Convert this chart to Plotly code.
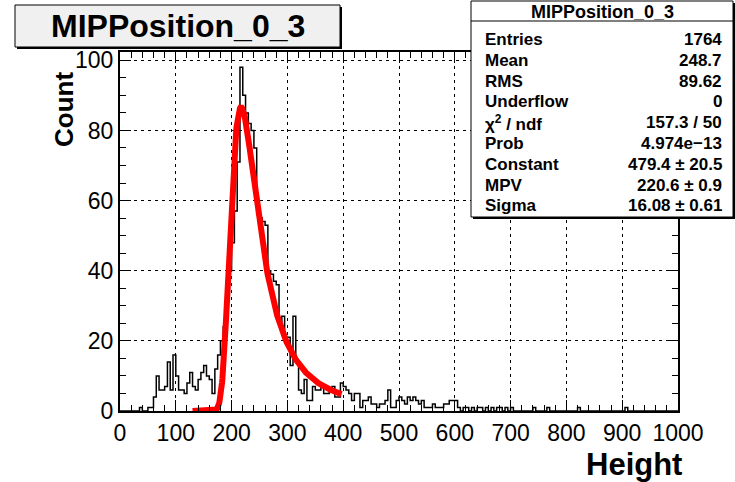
import math
import plotly.graph_objects as go

# ---------------- data ----------------
bin_width = 5
bin_start = 0
counts = [
    0, 0, 0, 0, 0, 0, 0, 1, 0, 0,          # 0-50
    1, 1, 4, 10, 6, 6, 7, 14, 6, 16,       # 50-100
    10, 6, 6, 5, 8, 11, 7, 6, 9, 11,       # 100-150
    13, 10, 9, 5, 12, 16, 20, 24, 32, 40,  # 150-200
    48, 57, 71, 98, 90, 85, 82, 80, 75, 56,  # 200-250
    55, 54, 53, 40, 39, 37, 36, 25, 27, 21,  # 250-300
    21, 13, 27, 14, 6, 5, 9, 3, 3, 7,      # 300-350
    6, 6, 7, 5, 5, 6, 7, 4, 4, 8,          # 350-400
    7, 6, 5, 3, 5, 5, 1, 3, 3, 4,          # 400-450
    2, 2, 1, 2, 2, 3, 6, 1, 1, 3,          # 450-500
    4, 3, 2, 4, 3, 4, 3, 2, 3, 1,          # 500-550
    1, 1, 2, 1, 1, 1, 2, 2, 3, 3,          # 550-600
    3, 1, 0, 1, 1, 0, 1, 0, 1, 1,          # 600-650
    0, 1, 0, 1, 0, 1, 1, 0, 1, 0,          # 650-700
    1, 0, 0, 0, 0, 0, 0, 0, 1, 0,          # 700-750
    0, 0, 0, 1, 0, 0, 0, 0, 0, 0,          # 750-800
    0, 0, 0, 0, 1, 0, 0, 0, 0, 0,          # 800-850
    0, 0, 0, 0, 0, 0, 0, 0, 0, 0,          # 850-900
    0, 1, 0, 0, 0, 0, 0, 0, 0, 0,          # 900-950
    0, 0, 0, 0, 0, 0, 0, 0, 0, 0,          # 950-1000
]

# Landau fit parameters (from the stats box)
fit_constant = 479.4
fit_mpv = 220.6
fit_sigma = 16.08
fit_xmin = 130
fit_xmax = 397

x_ticks = [0, 100, 200, 300, 400, 500, 600, 700, 800, 900, 1000]
y_ticks = [0, 20, 40, 60, 80, 100]

hist_title = "MIPPosition_0_3"
x_title = "Height"
y_title = "Count"
stats_labels = ["Entries", "Mean", "RMS", "Underflow", "χ<sup>2</sup> / ndf",
                "Prob", "Constant", "MPV", "Sigma"]
stats_values = ["1764", "248.7", "89.62", "0", "157.3 / 50", "4.974e\u221213",
                "479.4 \u00b1 20.5", "220.6 \u00b1 0.9", "16.08 \u00b1 0.61"]


# ---------------- Landau (ROOT::Math::landau_pdf) ----------------
def landau_pdf(v):
    p1 = [0.4259894875, -0.1249762550, 0.03984243700, -0.006298287635, 0.001511162253]
    q1 = [1.0, -0.3388260629, 0.09594393323, -0.01608042283, 0.003778942063]
    p2 = [0.1788541609, 0.1173957403, 0.01488850518, -0.001394989411, 0.0001283617211]
    q2 = [1.0, 0.7428795082, 0.3153932961, 0.06694219548, 0.008790609714]
    p3 = [0.1788544503, 0.09359161662, 0.006325387654, 0.00006611667319, -0.000002031049101]
    q3 = [1.0, 0.6097809921, 0.2560616665, 0.04746722384, 0.006957301675]
    p4 = [0.9874054407, 118.6723273, 849.2794360, -743.7792444, 427.0262186]
    q4 = [1.0, 106.8615961, 337.6496214, 2016.712389, 1597.063511]
    p5 = [1.003675074, 167.5702434, 4789.711289, 21217.86767, -22324.94910]
    q5 = [1.0, 156.9424537, 3745.310488, 9834.698876, 66924.28357]
    p6 = [1.000827619, 664.9143136, 62972.92665, 475554.6998, -5743609.109]
    q6 = [1.0, 651.4101098, 56974.73333, 165917.4725, -2815759.939]
    a1 = [0.04166666667, -0.01996527778, 0.02709538966]
    a2 = [-1.845568670, -4.284640743]

    def poly(c, t):
        return c[0] + (c[1] + (c[2] + (c[3] + c[4] * t) * t) * t) * t

    if v < -5.5:
        u = math.exp(v + 1.0)
        if u < 1e-10:
            return 0.0
        ue = math.exp(-1 / u)
        us = math.sqrt(u)
        return 0.3989422803 * (ue / us) * (1 + (a1[0] + (a1[1] + a1[2] * u) * u) * u)
    elif v < -1:
        u = math.exp(-v - 1)
        return math.exp(-u) * math.sqrt(u) * poly(p1, v) / poly(q1, v)
    elif v < 1:
        return poly(p2, v) / poly(q2, v)
    elif v < 5:
        return poly(p3, v) / poly(q3, v)
    elif v < 12:
        u = 1 / v
        return u * u * poly(p4, u) / poly(q4, u)
    elif v < 50:
        u = 1 / v
        return u * u * poly(p5, u) / poly(q5, u)
    elif v < 300:
        u = 1 / v
        return u * u * poly(p6, u) / poly(q6, u)
    else:
        u = 1 / (v - v * math.log(v) / (v + 1))
        return u * u * (1 + (a2[0] + a2[1] * u) * u)


# ---------------- geometry (pixels) ----------------
W, H = 735, 482
PL, PR, PT, PB = 120, 678, 52, 411
PW, PH = PR - PL, PB - PT
y_per_px = 3.507
y_max = PH / y_per_px


def fx(px):
    return (px - PL) / PW


def fy(py):
    return (PB - py) / PH


# ---------------- traces ----------------
edges = [bin_start + i * bin_width for i in range(len(counts) + 1)]
step_x = edges
step_y = counts + [counts[-1]]

n_fit = 400
fit_x = [fit_xmin + (fit_xmax - fit_xmin) * i / (n_fit - 1) for i in range(n_fit)]
fit_y = [fit_constant * landau_pdf((x - fit_mpv) / fit_sigma) for x in fit_x]

fig = go.Figure()
fig.add_trace(go.Scatter(x=step_x, y=step_y, mode="lines", line_shape="hv",
                         line=dict(color="black", width=1.5), hoverinfo="skip"))
fig.add_trace(go.Scatter(x=fit_x, y=fit_y, mode="lines",
                         line=dict(color="#ff0000", width=6), hoverinfo="skip"))

FONT = "Liberation Sans, Arial, Helvetica, sans-serif"

axis_common = dict(
    showline=True, linecolor="black", linewidth=2, mirror="allticks",
    ticks="inside", ticklen=11, tickwidth=1, tickcolor="black",
    showgrid=True, gridcolor="black", gridwidth=1.3, griddash="2.5px,4.5px",
    zeroline=False,
    tickfont=dict(family=FONT, size=23, color="black"),
)

fig.update_xaxes(range=[0, 1000], tickvals=x_ticks, ticktext=[str(v) for v in x_ticks],
                 minor=dict(dtick=20, tick0=0, ticks="inside", ticklen=6, tickwidth=1,
                            tickcolor="black", showgrid=False),
                 **axis_common)
fig.update_yaxes(range=[0, y_max], tickvals=y_ticks, ticktext=[str(v) for v in y_ticks],
                 minor=dict(dtick=5, tick0=0, ticks="inside", ticklen=6, tickwidth=1,
                            tickcolor="black", showgrid=False),
                 **axis_common)

shapes = []
annotations = []

# title box with shadow
tb = (15, 5, 340, 47)
shapes.append(dict(type="rect", xref="paper", yref="paper", layer="above",
                   x0=fx(tb[0] + 2), x1=fx(tb[2] + 2), y0=fy(tb[3] + 2), y1=fy(tb[1] + 2),
                   fillcolor="black", line=dict(width=0)))
shapes.append(dict(type="rect", xref="paper", yref="paper", layer="above",
                   x0=fx(tb[0]), x1=fx(tb[2]), y0=fy(tb[3]), y1=fy(tb[1]),
                   fillcolor="#f0f0f0", line=dict(color="black", width=1)))
annotations.append(dict(text="<b>%s</b>" % hist_title, xref="paper", yref="paper",
                        x=fx((tb[0] + tb[2]) / 2), y=fy(26.5), xanchor="center", yanchor="middle",
                        showarrow=False, font=dict(family=FONT, size=32, color="black")))

# stats box with shadow
sb = (471, 1, 733, 217)
shapes.append(dict(type="rect", xref="paper", yref="paper", layer="above",
                   x0=fx(sb[0] + 2), x1=fx(sb[2] + 2), y0=fy(sb[3] + 2), y1=fy(sb[1] + 2),
                   fillcolor="black", line=dict(width=0)))
shapes.append(dict(type="rect", xref="paper", yref="paper", layer="above",
                   x0=fx(sb[0]), x1=fx(sb[2]), y0=fy(sb[3]), y1=fy(sb[1]),
                   fillcolor="white", line=dict(color="black", width=1)))
shapes.append(dict(type="line", xref="paper", yref="paper", layer="above",
                   x0=fx(sb[0]), x1=fx(sb[2]), y0=fy(21), y1=fy(21),
                   line=dict(color="black", width=1)))
annotations.append(dict(text="<b>%s</b>" % hist_title, xref="paper", yref="paper",
                        x=fx((sb[0] + sb[2]) / 2), y=fy(12), xanchor="center", yanchor="middle",
                        showarrow=False, font=dict(family=FONT, size=18, color="black")))
for i, (lab, val) in enumerate(zip(stats_labels, stats_values)):
    yy = 39.5 + 20.8 * i
    annotations.append(dict(text="<b>%s</b>" % lab, xref="paper", yref="paper",
                            x=fx(483), y=fy(yy), xanchor="left", yanchor="middle",
                            showarrow=False, font=dict(family=FONT, size=17, color="black")))
    annotations.append(dict(text="<b>%s</b>" % val, xref="paper", yref="paper",
                            x=fx(724), y=fy(yy), xanchor="right", yanchor="middle",
                            showarrow=False, font=dict(family=FONT, size=17, color="black")))

# axis titles
annotations.append(dict(text="<b>%s</b>" % x_title, xref="paper", yref="paper",
                        x=fx(684), y=fy(464), xanchor="right", yanchor="middle",
                        showarrow=False, font=dict(family=FONT, size=31, color="black")))
annotations.append(dict(text="<b>%s</b>" % y_title, xref="paper", yref="paper",
                        x=fx(64), y=fy(110), xanchor="center", yanchor="middle", textangle=-90,
                        showarrow=False, font=dict(family=FONT, size=26, color="black")))

fig.update_layout(
    width=W, height=H,
    margin=dict(l=PL, r=W - PR, t=PT, b=H - PB, pad=0),
    paper_bgcolor="white", plot_bgcolor="white",
    showlegend=False,
    shapes=shapes, annotations=annotations,
    font=dict(family=FONT, color="black"),
)

fig.write_html("out.html")
